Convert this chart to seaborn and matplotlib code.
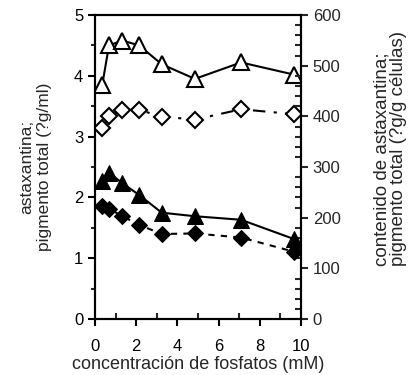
import matplotlib
matplotlib.use("Agg")
import matplotlib.pyplot as plt
import seaborn as sns
from matplotlib.ticker import MultipleLocator

# phosphate concentration (mM)
fosfato = [0.35, 0.68, 1.33, 2.14, 3.24, 4.85, 7.09, 9.66]

# left axis (ug/ml): open symbols
pigmento_vol = [3.85, 4.50, 4.58, 4.50, 4.19, 3.95, 4.22, 4.02]
astax_vol = [3.14, 3.34, 3.44, 3.44, 3.33, 3.28, 3.45, 3.37]

# right axis (ug/g cells): filled symbols
pigmento_cel = [272, 289, 268, 245, 210, 203, 196, 158]
astax_cel = [223, 218, 203, 186, 168, 169, 161, 133]

sns.set_style("ticks")
plt.rcParams["font.family"] = ["Liberation Sans", "DejaVu Sans"]

fig = plt.figure(figsize=(4.14, 3.75), dpi=100)
ax = fig.add_axes([0.2295, 0.149, 0.4975, 0.811])
ax2 = ax.twinx()

sns.lineplot(x=fosfato, y=pigmento_vol, ax=ax, color="black", lw=1.5,
             marker="^", ms=11, mfc="white", mec="black", mew=1.5, zorder=3)
sns.lineplot(x=fosfato, y=astax_vol, ax=ax, color="black", lw=1.5,
             linestyle=(0, (6, 4, 1.5, 4)),
             marker="D", ms=8, mfc="white", mec="black", mew=1.5, zorder=3)
sns.lineplot(x=fosfato, y=pigmento_cel, ax=ax2, color="black", lw=1.5,
             marker="^", ms=11, mfc="black", mec="black", zorder=3)
sns.lineplot(x=fosfato, y=astax_cel, ax=ax2, color="black", lw=1.5,
             linestyle=(0, (3, 3)),
             marker="D", ms=8, mfc="black", mec="black", zorder=3)

ax.set_xlim(0, 10)
ax.set_ylim(0, 5)
ax2.set_ylim(0, 600)

ax.xaxis.set_major_locator(MultipleLocator(2))
ax.xaxis.set_minor_locator(MultipleLocator(1))
ax.yaxis.set_major_locator(MultipleLocator(1))
ax.yaxis.set_minor_locator(MultipleLocator(0.5))
ax2.yaxis.set_major_locator(MultipleLocator(100))
ax2.yaxis.set_minor_locator(MultipleLocator(20))

for a in (ax, ax2):
    for s in a.spines.values():
        s.set_linewidth(1.5)
        s.set_color("black")

ax.tick_params(axis="both", which="major", direction="out", length=5, width=1.5,
               labelsize=12, colors="black")
ax.tick_params(axis="both", which="minor", direction="out", length=3, width=1.5)
ax.tick_params(axis="x", which="minor", direction="in", length=4)
ax.tick_params(axis="x", which="major", pad=9)
ax2.tick_params(axis="y", which="major", direction="out", length=5, width=1.5,
                labelsize=12)
ax2.tick_params(axis="y", which="minor", direction="in", length=4, width=1.5)

ax.set_xlabel("concentración de fosfatos (mM)", fontsize=13, labelpad=2)
ax.set_ylabel("astaxantina;\npigmento total (?g/ml)", fontsize=12.5,
              linespacing=1.25)
ax.yaxis.set_label_coords(-0.21, 0.5)
ax2.set_ylabel("contenido de astaxantina;\npigmento total (?g/g células)",
               fontsize=13.5, linespacing=1.0, multialignment="left")
ax2.yaxis.set_label_coords(1.35, 0.56)

fig.savefig("out.png", dpi=100)
